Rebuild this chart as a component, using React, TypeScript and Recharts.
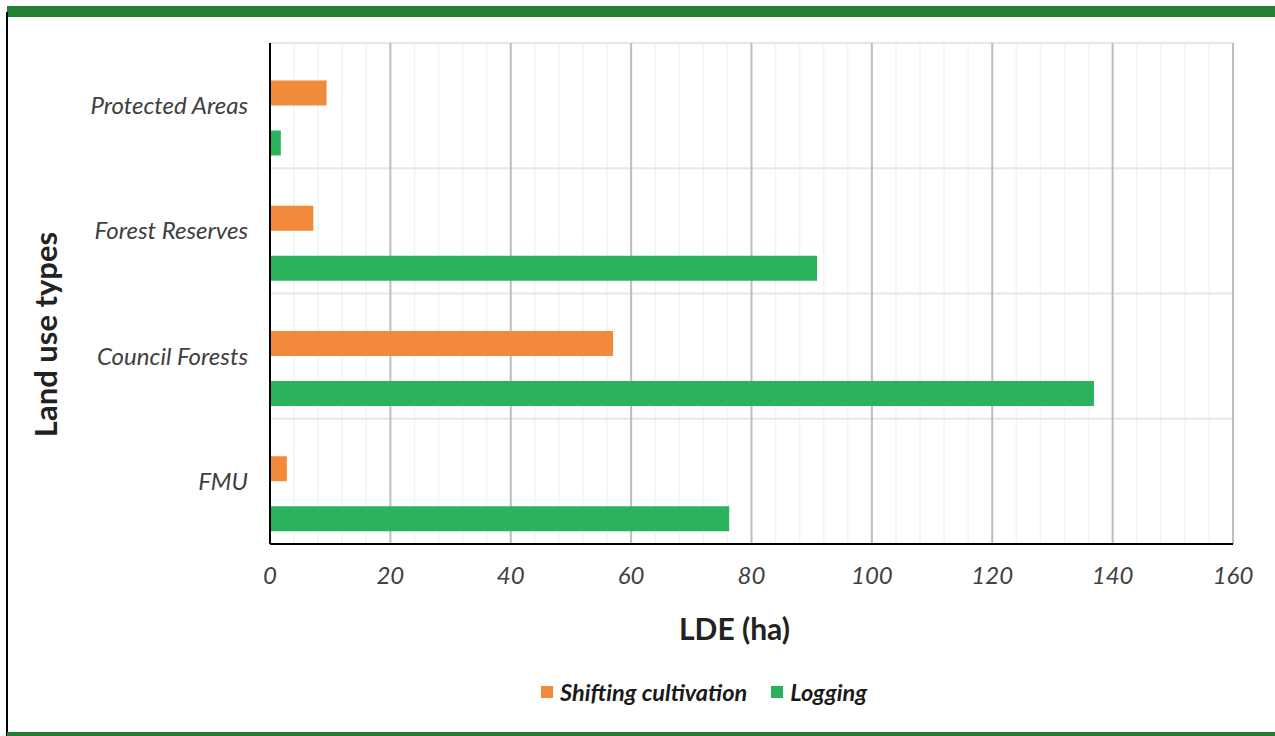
import React from 'react';
import {
  BarChart,
  Bar,
  XAxis,
  YAxis,
  CartesianGrid,
  Legend,
  Rectangle,
} from 'recharts';

// Land use types (top to bottom)
const categories = ['Protected Areas', 'Forest Reserves', 'Council Forests', 'FMU'];
// LDE (ha) per land use type
const shiftingCultivation = [9.4, 7.2, 57.0, 2.8];
const logging = [1.8, 90.9, 136.9, 76.3];
// Axis ticks
const xTicks = [0, 20, 40, 60, 80, 100, 120, 140, 160];
const minorTicks = [4, 8, 12, 16, 24, 28, 32, 36, 44, 48, 52, 56, 64, 68, 72, 76, 84, 88, 92, 96, 104, 108, 112, 116, 124, 128, 132, 136, 144, 148, 152, 156];

const data = categories.map((name, i) => ({
  name,
  shifting: shiftingCultivation[i],
  logging: logging[i],
}));

const ORANGE = '#F28A3B';
const GREEN = '#2AB35C';
const FONT = 'Lato, "Open Sans", sans-serif';
const TICK_COLOR = '#404040';

const W = 1275;
const H = 736;

// Bars sit a little below the centre of each category band
const BAR_SHIFT = 12.5;
const ShiftedBar = (props: any) => (
  <Rectangle
    x={props.x}
    y={props.y + BAR_SHIFT}
    width={props.width}
    height={props.height}
    fill={props.fill}
  />
);

const LegendContent = () => (
  <div
    style={{
      display: 'flex',
      alignItems: 'center',
      fontFamily: FONT,
      fontWeight: 700,
      fontStyle: 'italic',
      fontSize: 23.5,
      color: '#1a1a1a',
      whiteSpace: 'nowrap',
    }}
  >
    <span style={{ width: 12, height: 12, background: ORANGE, display: 'inline-block', marginRight: 7 }} />
    <span>Shifting cultivation</span>
    <span style={{ width: 12, height: 12, background: GREEN, display: 'inline-block', marginLeft: 24, marginRight: 7 }} />
    <span>Logging</span>
  </div>
);

export default function App() {
  return (
    <div style={{ position: 'absolute', left: 0, top: 0, width: W, height: H, background: '#fff' }}>
      {/* frame */}
      <div style={{ position: 'absolute', left: 7, top: 6, width: W - 7, height: 11, background: '#237F34' }} />
      <div style={{ position: 'absolute', left: 6, top: 12, width: 2, height: H - 12, background: '#000' }} />
      <div style={{ position: 'absolute', left: 7, top: 732, width: W - 7, height: 4, background: '#237F34' }} />

      <div style={{ position: 'absolute', left: 0, top: 0 }}>
        <BarChart
          width={W}
          height={H}
          data={data}
          layout="vertical"
          margin={{ top: 43, right: 42, left: 70, bottom: 152 }}
          barSize={25}
          barGap={25}
        >
          {/* minor vertical grid */}
          <CartesianGrid
            horizontal={false}
            stroke="#f1f3f6"
            strokeWidth={1.5}
            verticalCoordinatesGenerator={({ offset }: any) =>
              minorTicks.map((v) => offset.left + (v / 160) * offset.width)
            }
          />
          {/* category separators */}
          <CartesianGrid
            vertical={false}
            stroke="#e3e7ec"
            strokeWidth={2}
            horizontalCoordinatesGenerator={({ offset }: any) =>
              categories.map((_, i) => offset.top + (i * offset.height) / categories.length)
            }
          />
          {/* major vertical grid */}
          <CartesianGrid horizontal={false} stroke="#bdbdbd" strokeWidth={2} />
          <XAxis
            type="number"
            domain={[0, 160]}
            ticks={xTicks}
            interval={0}
            height={40}
            axisLine={{ stroke: '#000', strokeWidth: 2 }}
            tickLine={false}
            tickMargin={17}
            tick={{ fill: TICK_COLOR, fontSize: 24, fontStyle: 'italic', fontFamily: FONT }}
            label={{
              content: ({ viewBox }: any) => (
                <text
                  x={viewBox.x + viewBox.width / 2 - 17}
                  y={viewBox.y + 84}
                  textAnchor="middle"
                  dominantBaseline="central"
                  fontFamily={FONT}
                  fontWeight={700}
                  fontSize={30}
                  fill="#222"
                >
                  LDE (ha)
                </text>
              ),
            }}
          />
          <YAxis
            type="category"
            dataKey="name"
            width={200}
            axisLine={{ stroke: '#000', strokeWidth: 2 }}
            tickLine={false}
            tickMargin={16}
            tick={{ fill: TICK_COLOR, fontSize: 24, fontStyle: 'italic', fontFamily: FONT }}
            label={{
              content: ({ viewBox }: any) => {
                const cx = viewBox.x - 25;
                const cy = viewBox.y + viewBox.height / 2 + 41;
                return (
                  <text
                    x={cx}
                    y={cy}
                    transform={`rotate(-90, ${cx}, ${cy})`}
                    textAnchor="middle"
                    dominantBaseline="central"
                    fontFamily={FONT}
                    fontWeight={700}
                    fontSize={31}
                    fill="#222"
                  >
                    Land use types
                  </text>
                );
              },
            }}
          />
          <Legend
            layout="vertical"
            align="center"
            verticalAlign="middle"
            content={<LegendContent />}
            wrapperStyle={{ position: 'absolute', left: 541, top: 678, width: 'auto' }}
          />
          <Bar
            dataKey="shifting"
            name="Shifting cultivation"
            fill={ORANGE}
            shape={ShiftedBar}
            isAnimationActive={false}
          />
          <Bar
            dataKey="logging"
            name="Logging"
            fill={GREEN}
            shape={ShiftedBar}
            isAnimationActive={false}
          />
        </BarChart>
      </div>
    </div>
  );
}
